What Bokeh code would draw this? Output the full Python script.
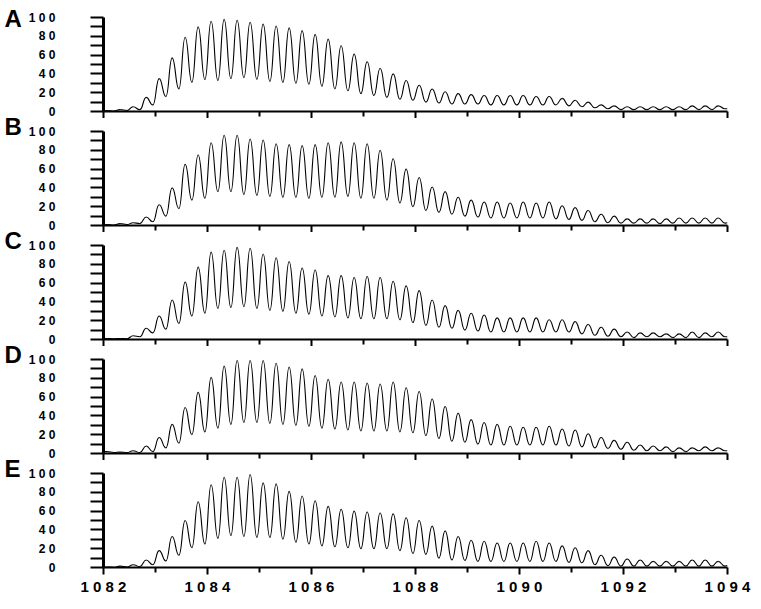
from bokeh.plotting import figure
from bokeh.layouts import column, row
from bokeh.models import Range1d, FixedTicker, Label, ColumnDataSource
from bokeh.embed import file_html
from bokeh.resources import INLINE

# m/z sampling points: start, then apex / valley pairs, then end
mz = [1082.00,
      1082.07, 1082.20, 1082.32, 1082.45, 1082.57, 1082.70, 1082.82, 1082.95,
      1083.07, 1083.20, 1083.32, 1083.45, 1083.57, 1083.70, 1083.82, 1083.95,
      1084.07, 1084.20, 1084.32, 1084.45, 1084.57, 1084.70, 1084.82, 1084.95,
      1085.07, 1085.20, 1085.32, 1085.45, 1085.57, 1085.70, 1085.82, 1085.95,
      1086.07, 1086.20, 1086.32, 1086.45, 1086.57, 1086.70, 1086.82, 1086.95,
      1087.07, 1087.20, 1087.32, 1087.45, 1087.57, 1087.70, 1087.82, 1087.95,
      1088.07, 1088.20, 1088.32, 1088.45, 1088.57, 1088.70, 1088.82, 1088.95,
      1089.07, 1089.20, 1089.32, 1089.45, 1089.57, 1089.70, 1089.82, 1089.95,
      1090.07, 1090.20, 1090.32, 1090.45, 1090.57, 1090.70, 1090.82, 1090.95,
      1091.07, 1091.20, 1091.32, 1091.45, 1091.57, 1091.70, 1091.82, 1091.95,
      1092.07, 1092.20, 1092.32, 1092.45, 1092.57, 1092.70, 1092.82, 1092.95,
      1093.07, 1093.20, 1093.32, 1093.45, 1093.57, 1093.70, 1093.82, 1093.95,
      1094.00]

panel_letters = ["A", "B", "C", "D", "E"]

# apex intensities (48 per panel)
peaks_A = [1, 2, 5, 15, 35, 57, 79, 90, 96, 98, 97, 95, 93, 91, 89, 86,
           82, 77, 70, 61, 53, 46, 40, 33, 28, 24, 21, 19, 18, 17, 17, 17,
           17, 16, 16, 14, 12, 10, 7, 6, 5, 5, 5, 5, 5, 6, 6, 6]
valleys_A = [0.5, 1, 2, 7, 16, 24, 31, 34, 33, 35, 36, 34, 32, 31, 30, 29,
             27, 24, 22, 19, 17, 15, 13, 12, 10, 9, 8, 8, 8, 7, 7, 7,
             7, 7, 7, 6, 5, 4, 3, 2, 2, 2, 2, 2, 2, 2, 2, 3]
ends_A = [0.5, 3]

peaks_B = [1, 2, 3, 9, 22, 40, 65, 75, 88, 96, 96, 92, 91, 87, 86, 85,
           86, 88, 89, 88, 87, 80, 71, 60, 51, 41, 36, 30, 27, 25, 25, 24,
           25, 24, 25, 21, 19, 16, 12, 10, 7, 7, 7, 7, 8, 8, 8, 8]
valleys_B = [0.5, 1, 2, 4, 10, 18, 27, 29, 36, 36, 33, 32, 31, 30, 30, 29,
             30, 30, 31, 29, 29, 27, 24, 20, 16, 14, 12, 10, 9, 8, 8, 8,
             8, 8, 7, 6.5, 5.5, 4, 3, 2.5, 2.5, 2.5, 2, 2.5, 2.5, 2.5, 2.5, 2.5]
ends_B = [0.5, 3]

peaks_C = [1, 1, 4, 12, 25, 42, 61, 77, 93, 95, 98, 97, 91, 87, 83, 76,
           74, 68, 68, 66, 67, 66, 62, 57, 52, 42, 36, 31, 28, 26, 23, 23,
           23, 23, 21, 21, 19, 16, 13, 11, 8, 7, 7, 6, 6, 8, 7, 8]
valleys_C = [0.8, 0.8, 3, 7, 11, 17, 25, 28, 33, 34, 35, 33, 31, 30, 28, 27,
             25, 24, 23, 22, 22, 22, 21, 18, 15, 13, 12, 10, 9, 8, 8, 8,
             8, 8, 8, 8, 6, 4.5, 3.5, 3, 2, 3, 3, 2, 2, 2, 3, 3]
ends_C = [0.8, 3]

peaks_D = [2, 1.5, 3, 8, 17, 31, 49, 65, 81, 93, 99, 99, 99, 96, 92, 90,
           83, 79, 76, 76, 75, 74, 76, 70, 66, 58, 50, 43, 36, 33, 31, 29,
           28, 28, 29, 26, 25, 21, 17, 14, 12, 9, 8, 7, 6, 6, 7, 6]
valleys_D = [1, 1, 1, 2, 6, 11, 20, 23, 27, 31, 33, 33, 32, 31, 30, 29,
             27, 26, 25, 24, 24, 24, 23, 22, 19, 16, 13, 12, 10, 9, 9, 9,
             9, 9, 9, 8, 7, 6, 5.5, 4.5, 3.5, 3, 3, 2, 2, 3, 3, 3]
ends_D = [2, 3]

peaks_E = [0.5, 1.5, 3, 8, 18, 33, 50, 70, 88, 96, 96, 99, 90, 89, 81, 76,
           71, 65, 62, 60, 59, 58, 57, 53, 50, 44, 39, 33, 29, 28, 26, 26,
           26, 28, 26, 23, 21, 18, 13, 11, 9, 8, 6.5, 6.5, 6.5, 8, 8, 6.5]
valleys_E = [0.3, 0.5, 1, 3, 7, 13, 21, 25, 31, 34, 33, 32, 32, 30, 27, 25,
             23, 22, 21, 20, 20, 20, 18, 15, 14, 10, 8, 7.5, 6.5, 6.5, 6.5, 6.5,
             6.5, 6.5, 6.5, 5.5, 5, 3, 2, 1.5, 1.5, 1.5, 1.5, 1.5, 1.5, 1.5, 1.5, 1.5]
ends_E = [0.3, 2]

x_major = [1082, 1084, 1086, 1088, 1090, 1092, 1094]
x_minor = [1083, 1085, 1087, 1089, 1091, 1093]
x_labels = ["1 0 8 2", "1 0 8 4", "1 0 8 6", "1 0 8 8", "1 0 9 0", "1 0 9 2", "1 0 9 4"]
y_major = [0, 20, 40, 60, 80, 100]
y_minor = [10, 30, 50, 70, 90]
y_labels = ["0", "2 0", "4 0", "6 0", "8 0", "1 0 0"]

series = [(peaks_A, valleys_A, ends_A), (peaks_B, valleys_B, ends_B),
          (peaks_C, valleys_C, ends_C), (peaks_D, valleys_D, ends_D),
          (peaks_E, valleys_E, ends_E)]

FONT = "Liberation Sans"
LETTER_W = 24
FRAME_H = 94


def border_top(idx):
    return 17 if idx == 0 else 13


def border_bottom(idx):
    return 30 if idx == len(series) - 1 else 7


def make_panel(idx):
    last = idx == len(series) - 1
    pk, vl, ends = series[idx]
    inten = [ends[0]]
    for a, b in zip(pk, vl):
        inten += [a, b]
    inten.append(ends[1])

    p = figure(frame_width=624, frame_height=FRAME_H,
               x_range=Range1d(1082, 1094), y_range=Range1d(0, 100),
               output_backend="svg", toolbar_location=None,
               min_border_left=103 - LETTER_W, min_border_right=30,
               min_border_top=border_top(idx),
               min_border_bottom=border_bottom(idx))
    p.outline_line_color = None
    p.grid.visible = False
    p.background_fill_color = "white"
    p.border_fill_color = "white"

    # every sampled point is a local apex or valley: join them with
    # flat-tangent cubic segments
    x0, y0, x1, y1 = mz[:-1], inten[:-1], mz[1:], inten[1:]
    cx0 = [a + (b - a) / 2 for a, b in zip(x0, x1)]
    cx1 = [b - (b - a) / 2 for a, b in zip(x0, x1)]
    src = ColumnDataSource(dict(x0=x0, y0=y0, x1=x1, y1=y1,
                                cx0=cx0, cy0=y0, cx1=cx1, cy1=y1))
    p.bezier(x0="x0", y0="y0", x1="x1", y1="y1", cx0="cx0", cy0="cy0",
             cx1="cx1", cy1="cy1", source=src, line_color="black",
             line_width=1.1)

    xa = p.xaxis[0]
    xa.ticker = FixedTicker(ticks=x_major, minor_ticks=x_minor)
    xa.axis_line_width = 2
    xa.axis_line_color = "black"
    xa.major_tick_in = 0
    xa.minor_tick_in = 0
    xa.major_tick_out = 7
    xa.minor_tick_out = 5
    xa.major_tick_line_width = 2
    xa.minor_tick_line_width = 2
    xa.major_tick_line_color = "black"
    xa.minor_tick_line_color = "black"
    if last:
        xa.major_label_overrides = {t: s for t, s in zip(x_major, x_labels)}
        xa.major_label_text_font = FONT
        xa.major_label_text_font_style = "bold"
        xa.major_label_text_font_size = "15px"
        xa.major_label_text_color = "black"
        xa.major_label_standoff = 3
    else:
        xa.major_label_overrides = {t: "" for t in x_major}
        xa.major_label_text_font_size = "1px"
        xa.major_label_standoff = 0

    ya = p.yaxis[0]
    ya.ticker = FixedTicker(ticks=y_major, minor_ticks=y_minor)
    ya.major_label_overrides = {t: s for t, s in zip(y_major, y_labels)}
    ya.axis_line_width = 3
    ya.axis_line_color = "black"
    ya.major_tick_in = 0
    ya.minor_tick_in = 0
    ya.major_tick_out = 13
    ya.minor_tick_out = 13
    ya.major_tick_line_width = 2
    ya.minor_tick_line_width = 2
    ya.major_tick_line_color = "black"
    ya.minor_tick_line_color = "black"
    ya.major_label_text_font = FONT
    ya.major_label_text_font_style = "bold"
    ya.major_label_text_font_size = "12px"
    ya.major_label_text_color = "black"
    ya.major_label_standoff = 35
    return p


figs = [make_panel(i) for i in range(len(series))]

# heights of each panel's canvas, and the page position of each letter
heights = [border_top(i) + FRAME_H + border_bottom(i) for i in range(len(series))]
total_h = sum(heights)

lf = figure(width=LETTER_W, height=total_h, x_range=Range1d(0, LETTER_W),
            y_range=Range1d(total_h, 0), output_backend="svg",
            toolbar_location=None, x_axis_location=None, y_axis_location=None,
            min_border=0)
lf.outline_line_color = None
lf.grid.visible = False
lf.background_fill_color = "white"
lf.border_fill_color = "white"

top = 0
for i, letter in enumerate(panel_letters):
    frame_top = top + border_top(i)
    baseline = frame_top + (1 if i == 0 else -5)
    lf.add_layout(Label(x=4, y=baseline, text=letter,
                        text_align="left", text_baseline="alphabetic",
                        text_font=FONT, text_font_style="bold",
                        text_font_size="24px", text_color="black"))
    top += heights[i]

layout = row(lf, column(*figs, spacing=0), spacing=0)

open("out.html", "w").write(file_html(layout, INLINE))
